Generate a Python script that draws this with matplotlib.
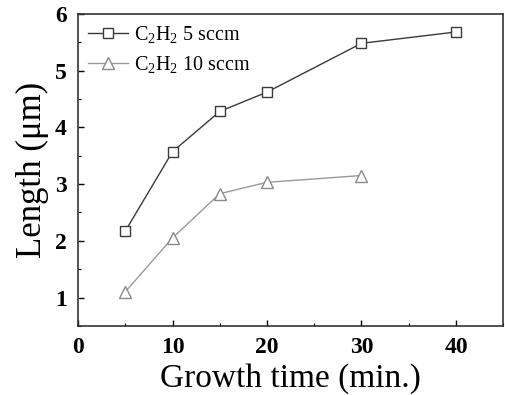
import matplotlib
matplotlib.use("Agg")
import matplotlib.pyplot as plt
from matplotlib.ticker import MultipleLocator

plt.rcParams['font.family'] = ['Liberation Serif', 'DejaVu Serif']
plt.rcParams['mathtext.fontset'] = 'custom'
plt.rcParams['mathtext.rm'] = 'Liberation Serif'
plt.rcParams['mathtext.it'] = 'Liberation Serif:italic'
plt.rcParams['mathtext.bf'] = 'Liberation Serif:bold'

time_5 = [5, 10, 15, 20, 30, 40]
length_5 = [2.17, 3.57, 4.28, 4.62, 5.48, 5.68]
time_10 = [5, 10, 15, 20, 30]
length_10 = [1.10, 2.05, 2.83, 3.03, 3.15]
label_5 = r'C$_2$H$_2$ 5 sccm'
label_10 = r'C$_2$H$_2$ 10 sccm'

fig = plt.figure(figsize=(5.05, 3.95), dpi=100)
ax = fig.add_axes([0.1545, 0.175, 0.842, 0.79])

ax.plot(time_5, length_5, color='#3a3a3a', lw=1.0, marker='s', ms=6.5,
        mfc='white', mec='#3a3a3a', mew=1.0, label=label_5)
ax.plot(time_10, length_10, color='#9a9a9a', lw=1.0, marker='^', ms=8,
        mfc='white', mec='#8a8a8a', mew=1.0, label=label_10)

ax.set_xlim(0, 45)
ax.set_ylim(0.5, 6)
ax.xaxis.set_major_locator(MultipleLocator(10))
ax.xaxis.set_minor_locator(MultipleLocator(5))
ax.yaxis.set_major_locator(MultipleLocator(1))
ax.yaxis.set_minor_locator(MultipleLocator(0.5))
ax.tick_params(which='both', direction='in', top=False, right=False)
ax.tick_params(which='major', length=4, width=1.0, labelsize=17)
ax.tick_params(axis='x', which='major', pad=8)
ax.tick_params(axis='y', which='major', pad=8)
ax.tick_params(which='minor', length=2, width=0.8)
for lab in ax.get_xticklabels() + ax.get_yticklabels():
    lab.set_fontweight('bold')
for sp in ax.spines.values():
    sp.set_linewidth(1.2)
    sp.set_color('#333333')

ax.set_xlabel('Growth time (min.)', fontsize=24, labelpad=4)
ax.set_ylabel('Length (μm)', fontsize=25, labelpad=4)

ax.legend(loc='upper left', frameon=False, fontsize=14.5, handlelength=2.0,
          handletextpad=0.3, borderaxespad=0.2, labelspacing=0.45,
          borderpad=0.3)

fig.savefig('out.png', dpi=100)
